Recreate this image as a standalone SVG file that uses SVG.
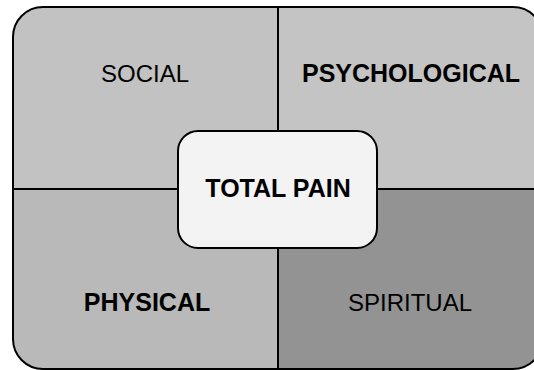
<svg xmlns="http://www.w3.org/2000/svg" width="534" height="370" viewBox="0 0 534 370">
<style>
.lbl{font-family:"Liberation Sans",Arial,sans-serif;font-size:24px;fill:#000;text-anchor:middle}
.b{font-weight:bold;font-size:25px}
.ln{stroke:#000;stroke-width:2;fill:none}
</style>
<defs>
<clipPath id="frame"><rect x="13" y="7" width="530" height="362" rx="30" ry="30"/></clipPath>
</defs>
<g id="quadrants" clip-path="url(#frame)">
<rect x="13" y="7" width="265" height="182" fill="#c2c2c2"/>
<rect x="278" y="7" width="265" height="182" fill="#c4c4c4"/>
<rect x="13" y="189" width="265" height="180" fill="#b9b9b9"/>
<rect x="278" y="189" width="265" height="180" fill="#939393"/>
</g>
<g id="connectors">
<line class="ln" x1="278" y1="7" x2="278" y2="369"/>
<line class="ln" x1="13" y1="189" x2="543" y2="189"/>
</g>
<rect class="ln" x="13" y="7" width="530" height="362" rx="30" ry="30"/>
<g id="social"><text class="lbl" x="145" y="82">SOCIAL</text></g>
<g id="psychological"><text class="lbl b" x="411" y="82">PSYCHOLOGICAL</text></g>
<g id="physical"><text class="lbl b" x="147" y="311">PHYSICAL</text></g>
<g id="spiritual"><text class="lbl" x="410" y="311">SPIRITUAL</text></g>
<g id="total-pain">
<rect x="178" y="131" width="199" height="117" rx="20" ry="20" fill="#f3f3f3" stroke="#000" stroke-width="2"/>
<text class="lbl b" x="278" y="197">TOTAL PAIN</text>
</g>
</svg>
